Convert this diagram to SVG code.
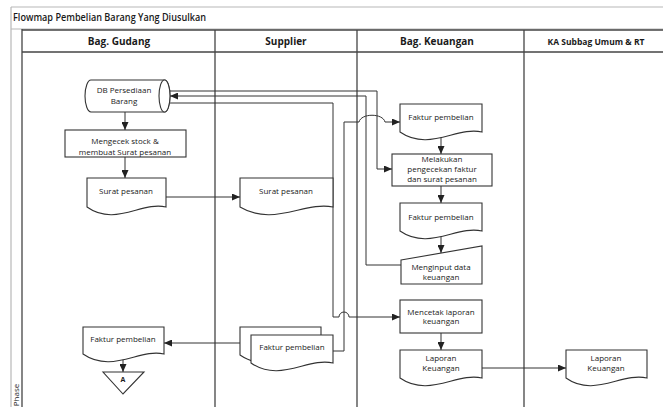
<svg xmlns="http://www.w3.org/2000/svg" width="663" height="407" viewBox="0 0 663 407">
<style>
.frame{fill:none;stroke:#b8b8b8;stroke-width:1.2}
.lane{fill:none;stroke:#444;stroke-width:1.3}
.shape{fill:#fff;stroke:#333;stroke-width:1.1}
.con{fill:none;stroke:#333;stroke-width:1}
.t{font-family:"Open Sans","Noto Sans",sans-serif;fill:#1a1a1a;text-anchor:middle;font-size:8px}
.tb{font-family:"Open Sans","Noto Sans",sans-serif;fill:#1a1a1a;text-anchor:middle;font-weight:700}
</style>
<defs>
<marker id="ah" markerUnits="userSpaceOnUse" markerWidth="8" markerHeight="7" refX="8" refY="3.5" orient="auto">
<path d="M0,0 L8,3.5 L0,7 z" fill="#222"/>
</marker>
</defs>
<rect x="0" y="0" width="663" height="407" fill="#fff"/>
<g id="frame">
<line class="frame" x1="11" y1="7" x2="663" y2="7"/>
<line class="frame" x1="11" y1="7" x2="11" y2="407"/>
<line class="frame" x1="11" y1="29" x2="663" y2="29"/>
<text x="13" y="21" class="tb" style="text-anchor:start;font-weight:600" font-size="10" textLength="193" lengthAdjust="spacingAndGlyphs">Flowmap Pembelian Barang Yang Diusulkan</text>
<line class="lane" x1="22" y1="29" x2="22" y2="407"/>
<line class="lane" x1="22" y1="30" x2="663" y2="30"/>
<line class="lane" x1="22" y1="52" x2="663" y2="52"/>
<line class="lane" x1="215" y1="30" x2="215" y2="407"/>
<line class="lane" x1="357" y1="30" x2="357" y2="407"/>
<line class="lane" x1="524" y1="30" x2="524" y2="407"/>
<text x="119" y="45" class="tb" font-size="10">Bag. Gudang</text>
<text x="286" y="45" class="tb" font-size="10">Supplier</text>
<text x="437" y="45" class="tb" font-size="10">Bag. Keuangan</text>
<text x="596" y="45" class="tb" font-size="8.5">KA Subbag Umum &amp; RT</text>
<text x="0" y="0" class="t" font-size="5" transform="translate(19,395) rotate(-90)">Phase</text>
</g>
<g id="connectors">
<line class="con" x1="125" y1="112" x2="125" y2="130" marker-end="url(#ah)"/>
<line class="con" x1="125" y1="157" x2="125" y2="178" marker-end="url(#ah)"/>
<line class="con" x1="166" y1="197" x2="240" y2="197" marker-end="url(#ah)"/>
<path class="con" d="M170 91 H377 V169 H392" marker-end="url(#ah)"/>
<path class="con" d="M401 265 H366 V96 H170" marker-end="url(#ah)"/>
<path class="con" d="M169 103 H333 V317 H339 A5 5 0 0 1 349 317 H400" marker-end="url(#ah)"/>
<path class="con" d="M333 351 H344 V122 H359 C361 113 383 113 385 122 H400" marker-end="url(#ah)"/>
<line class="con" x1="441" y1="137" x2="441" y2="154" marker-end="url(#ah)"/>
<line class="con" x1="441" y1="186" x2="441" y2="203" marker-end="url(#ah)"/>
<line class="con" x1="441" y1="236" x2="441" y2="253" marker-end="url(#ah)"/>
<line class="con" x1="441" y1="333" x2="441" y2="350" marker-end="url(#ah)"/>
<line class="con" x1="482" y1="368" x2="566" y2="368" marker-end="url(#ah)"/>
<line class="con" x1="240" y1="343" x2="164" y2="343" marker-end="url(#ah)"/>
<line class="con" x1="123" y1="358" x2="123" y2="372" marker-end="url(#ah)"/>
</g>
<g id="db-persediaan">
<path class="shape" d="M91 80 H164.5 A5.5 16 0 0 1 164.5 112 H91 A6 16 0 0 1 91 80 Z"/>
<ellipse class="shape" cx="164.5" cy="96" rx="5.5" ry="16"/>
<text x="124" y="92.5" class="t" font-size="6">DB Persediaan</text>
<text x="124" y="103.5" class="t" font-size="6">Barang</text>
</g>
<g id="mengecek">
<rect class="shape" x="65" y="130" width="121" height="27"/>
<text x="125" y="143.5" class="t" font-size="8.8">Mengecek stock  &amp;</text>
<text x="125" y="154.5" class="t" font-size="8.8">membuat Surat pesanan</text>
</g>
<g id="surat-gudang">
<path class="shape" d="M87 178 H166 V207 C142 201 115 227 87 207 Z"/>
<text x="126" y="194" class="t">Surat pesanan</text>
</g>
<g id="surat-supplier">
<path class="shape" d="M240 178 H333 V207 C305 201 273 227 240 207 Z"/>
<text x="286" y="194" class="t">Surat pesanan</text>
</g>
<g id="faktur-keuangan-1">
<path class="shape" d="M400 104 H482 V132 C457 126 429 152 400 132 Z"/>
<text x="441" y="120" class="t">Faktur pembelian</text>
</g>
<g id="melakukan">
<rect class="shape" x="392" y="154" width="100" height="32"/>
<text x="442" y="162" class="t" font-size="7.2">Melakukan</text>
<text x="442" y="171.8" class="t" font-size="7.2">pengecekan faktur</text>
<text x="442" y="181.6" class="t" font-size="7.2">dan surat pesanan</text>
</g>
<g id="faktur-keuangan-2">
<path class="shape" d="M400 203 H482 V231 C457 225 429 251 400 231 Z"/>
<text x="441" y="220" class="t">Faktur pembelian</text>
</g>
<g id="menginput">
<path class="shape" d="M401 260 L482 246 V284 H401 Z"/>
<text x="441" y="270" class="t" font-size="7.6">Menginput data</text>
<text x="441" y="279.5" class="t" font-size="7.6">keuangan</text>
</g>
<g id="mencetak">
<rect class="shape" x="400" y="300" width="82" height="33"/>
<text x="441" y="314.5" class="t" font-size="7.6">Mencetak laporan</text>
<text x="441" y="324" class="t" font-size="7.6">keuangan</text>
</g>
<g id="laporan-keuangan">
<path class="shape" d="M400 350 H482 V378 C457 372 429 398 400 378 Z"/>
<text x="441" y="361" class="t" font-size="7.6">Laporan</text>
<text x="441" y="370.5" class="t" font-size="7.6">Keuangan</text>
</g>
<g id="laporan-ka">
<path class="shape" d="M566 350 H647 V378 C622 372 594 398 566 378 Z"/>
<text x="606" y="361" class="t" font-size="7.6">Laporan</text>
<text x="606" y="370.5" class="t" font-size="7.6">Keuangan</text>
</g>
<g id="faktur-gudang">
<path class="shape" d="M83 327 H164 V354 C140 348 112 374 83 354 Z"/>
<text x="123" y="342" class="t">Faktur pembelian</text>
</g>
<g id="faktur-supplier">
<path class="shape" d="M240 327 H321 V355 C297 349 269 375 240 355 Z"/>
<path class="shape" d="M251 335 H333 V363 C308 357 280 383 251 363 Z"/>
<text x="292" y="350" class="t">Faktur pembelian</text>
</g>
<g id="connector-a">
<path class="shape" d="M103 372 H144 L123 394 Z"/>
<text x="123" y="382" class="tb" font-size="7">A</text>
</g>
</svg>
